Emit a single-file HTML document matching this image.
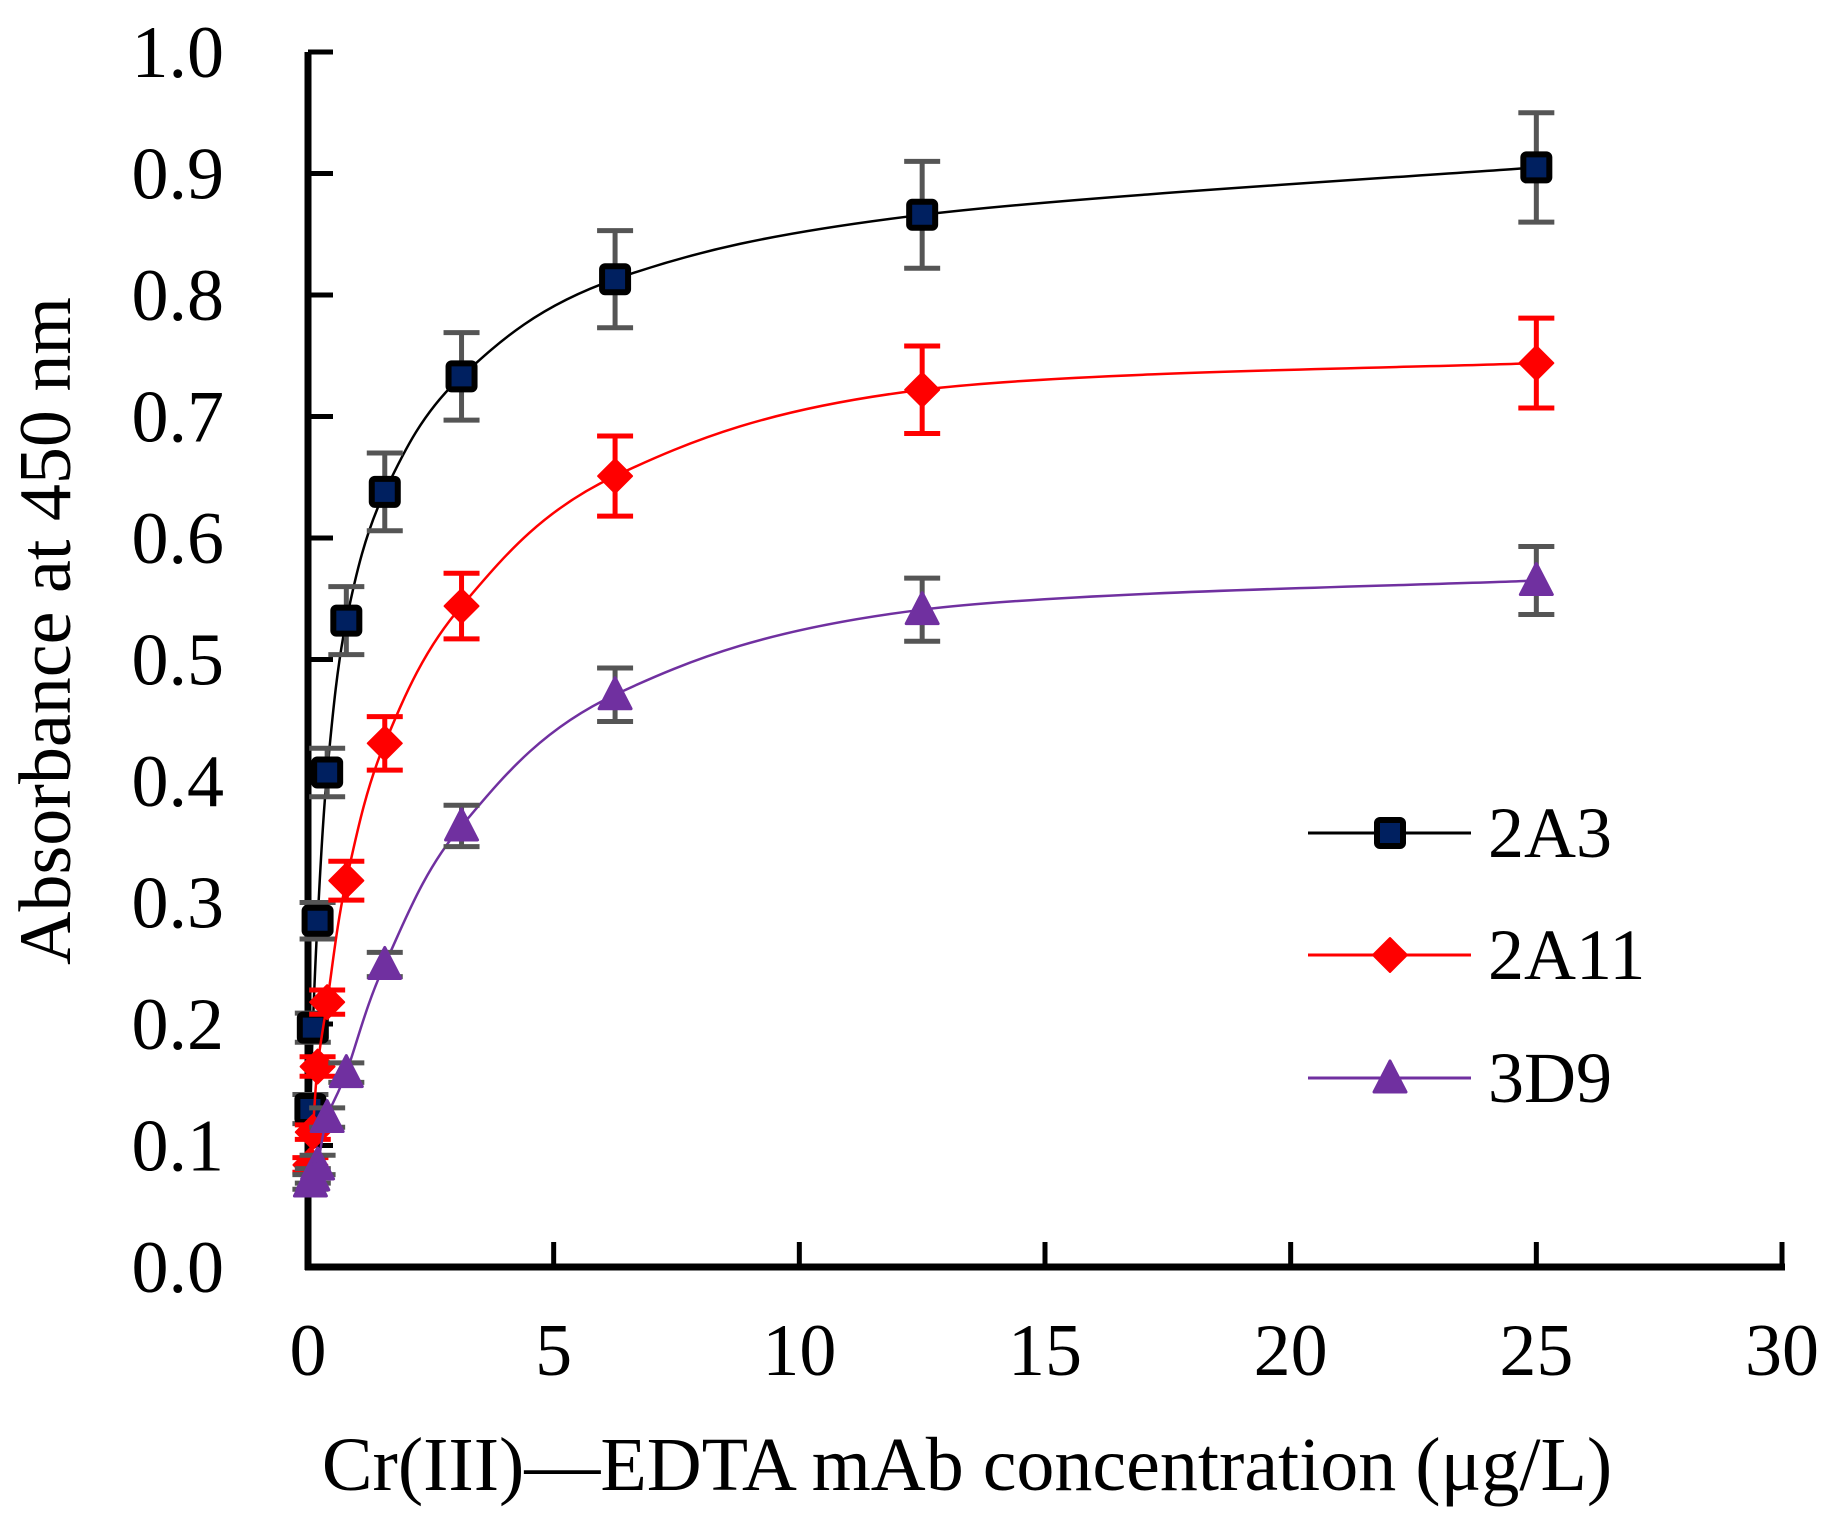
<!DOCTYPE html>
<html><head><meta charset="utf-8"><style>
html,body{margin:0;padding:0;background:#fff}
svg{display:block;font-family:"Liberation Serif",serif}
</style></head><body>
<svg id="chart" width="1840" height="1525" viewBox="0 0 1840 1525">
<g id="plot"></g>
</svg>
<script>
const xs=[25,12.5,6.25,3.125,1.5625,0.78,0.39,0.195,0.098,0.049];
const v2A3=[0.905,0.866,0.813,0.733,0.638,0.532,0.407,0.285,0.197,0.130];
const e2A3=[0.045,0.044,0.040,0.036,0.032,0.028,0.020,0.015,0.012,0.012];
const v2A11=[0.744,0.722,0.651,0.544,0.431,0.318,0.218,0.165,0.111,0.084];
const e2A11=[0.037,0.036,0.033,0.027,0.022,0.016,0.010,0.008,0.006,0.006];
const v3D9=[0.565,0.541,0.471,0.363,0.249,0.160,0.123,0.084,0.075,0.070];
const e3D9=[0.028,0.026,0.022,0.017,0.010,0.008,0.008,0.008,0.006,0.006];
const xTicks=[0,5,10,15,20,25,30];
const yTicks=[0,0.1,0.2,0.3,0.4,0.5,0.6,0.7,0.8,0.9,1.0];

const X0=308,X1=1782,Y0=1267,Y1=52;
const sx=v=>X0+(v/30)*(X1-X0);
const sy=v=>Y0-(v/1)*(Y0-Y1);
const NS='http://www.w3.org/2000/svg';
const g=document.getElementById('plot');
function mk(t,a,p){const e=document.createElementNS(NS,t);for(const k in a)e.setAttribute(k,a[k]);(p||g).appendChild(e);return e;}

let ax=mk('line',{x1:X0,y1:Y1,x2:X0,y2:Y0+3,stroke:'#000','stroke-width':7});


ax=mk('line',{x1:X0-3,y1:Y0,x2:X1+3,y2:Y0,stroke:'#000','stroke-width':7});


yTicks.forEach(t=>{
  const y=sy(t);
  const l=mk('line',{x1:X0,y1:y,x2:X0+25,y2:y,stroke:'#000','stroke-width':5});
  
  
  const tx=mk('text',{x:224,y:y+25,'text-anchor':'end','font-size':74});
  tx.textContent=t.toFixed(1);
  
  
});
xTicks.forEach(t=>{
  const x=sx(t);
  const l=mk('line',{x1:x,y1:Y0,x2:x,y2:Y0-25,stroke:'#000','stroke-width':5});
  
  
  const tx=mk('text',{x:x,y:1375,'text-anchor':'middle','font-size':74});
  tx.textContent=String(t);
  
  
});
let tt=mk('text',{x:967,y:1490,'text-anchor':'middle','font-size':76});
tt.textContent='Cr(III)\u2014EDTA mAb concentration (\u03bcg/L)';


tt=mk('text',{x:0,y:0,'text-anchor':'middle','font-size':74,transform:'translate(70,631) rotate(-90)'});
tt.textContent='Absorbance at 450 nm';



function curve(vals){
  const pts=xs.map((x,i)=>[sx(x),sy(vals[i])]).reverse();
  let d='M'+pts[0][0]+','+pts[0][1];
  for(let i=0;i<pts.length-1;i++){
    const p0=pts[Math.max(0,i-1)],p1=pts[i],p2=pts[i+1],p3=pts[Math.min(pts.length-1,i+2)];
    const c1=[p1[0]+(p2[0]-p0[0])/6,p1[1]+(p2[1]-p0[1])/6];
    const c2=[p2[0]-(p3[0]-p1[0])/6,p2[1]-(p3[1]-p1[1])/6];
    d+=' C'+c1+' '+c2+' '+p2;
  }
  return d;
}
function marker(type,x,y,col,grp){
  let m;
  if(type==='sq'){m=mk('rect',{x:x-13,y:y-13,width:26,height:26,rx:3,fill:'#002060',stroke:'#000','stroke-width':6},grp);}
  else if(type==='di'){m=mk('polygon',{points:`${x},${y-17} ${x+17},${y} ${x},${y+17} ${x-17},${y}`,fill:col,'stroke-linejoin':'round',stroke:col,'stroke-width':2},grp);}
  else {m=mk('polygon',{points:`${x},${y-17} ${x+16},${y+14} ${x-16},${y+14}`,fill:col,stroke:col,'stroke-width':3,'stroke-linejoin':'round'},grp);}
  return m;
}
function series(name,vals,errs,col,ecol,type){
  const grp=mk('g',{});
  
  
  const p=mk('path',{d:curve(vals),fill:'none',stroke:col,'stroke-width':2.5},grp);
  
  
  xs.forEach((xv,i)=>{
    const x=sx(xv),yt=sy(vals[i]+errs[i]),yb=sy(vals[i]-errs[i]);
    const e=mk('path',{d:`M${x},${yt}V${yb}M${x-18},${yt}H${x+18}M${x-18},${yb}H${x+18}`,stroke:ecol,'stroke-width':5,fill:'none'},grp);
    
    
  });
  xs.forEach((xv,i)=>{
    const m=marker(type,sx(xv),sy(vals[i]),col,grp);
    
    
  });
}
series('2A3',v2A3,e2A3,'#000','#555','sq');
series('2A11',v2A11,e2A11,'#ff0000','#ff0000','di');
series('3D9',v3D9,e3D9,'#7030a0','#555','tr');

const leg=mk('g',{});


[['2A3','#000','sq',833],['2A11','#ff0000','di',955],['3D9','#7030a0','tr',1078]].forEach(r=>{
  const l=mk('line',{x1:1308,y1:r[3],x2:1471,y2:r[3],stroke:r[1],'stroke-width':3},leg);
  
  
  const m=marker(r[2],1390,r[3],r[1],leg);
  
  
  const t=mk('text',{x:1488,y:r[3]+24,'font-size':72},leg);
  t.textContent=r[0];
  
  
});
</script>
</body></html>
